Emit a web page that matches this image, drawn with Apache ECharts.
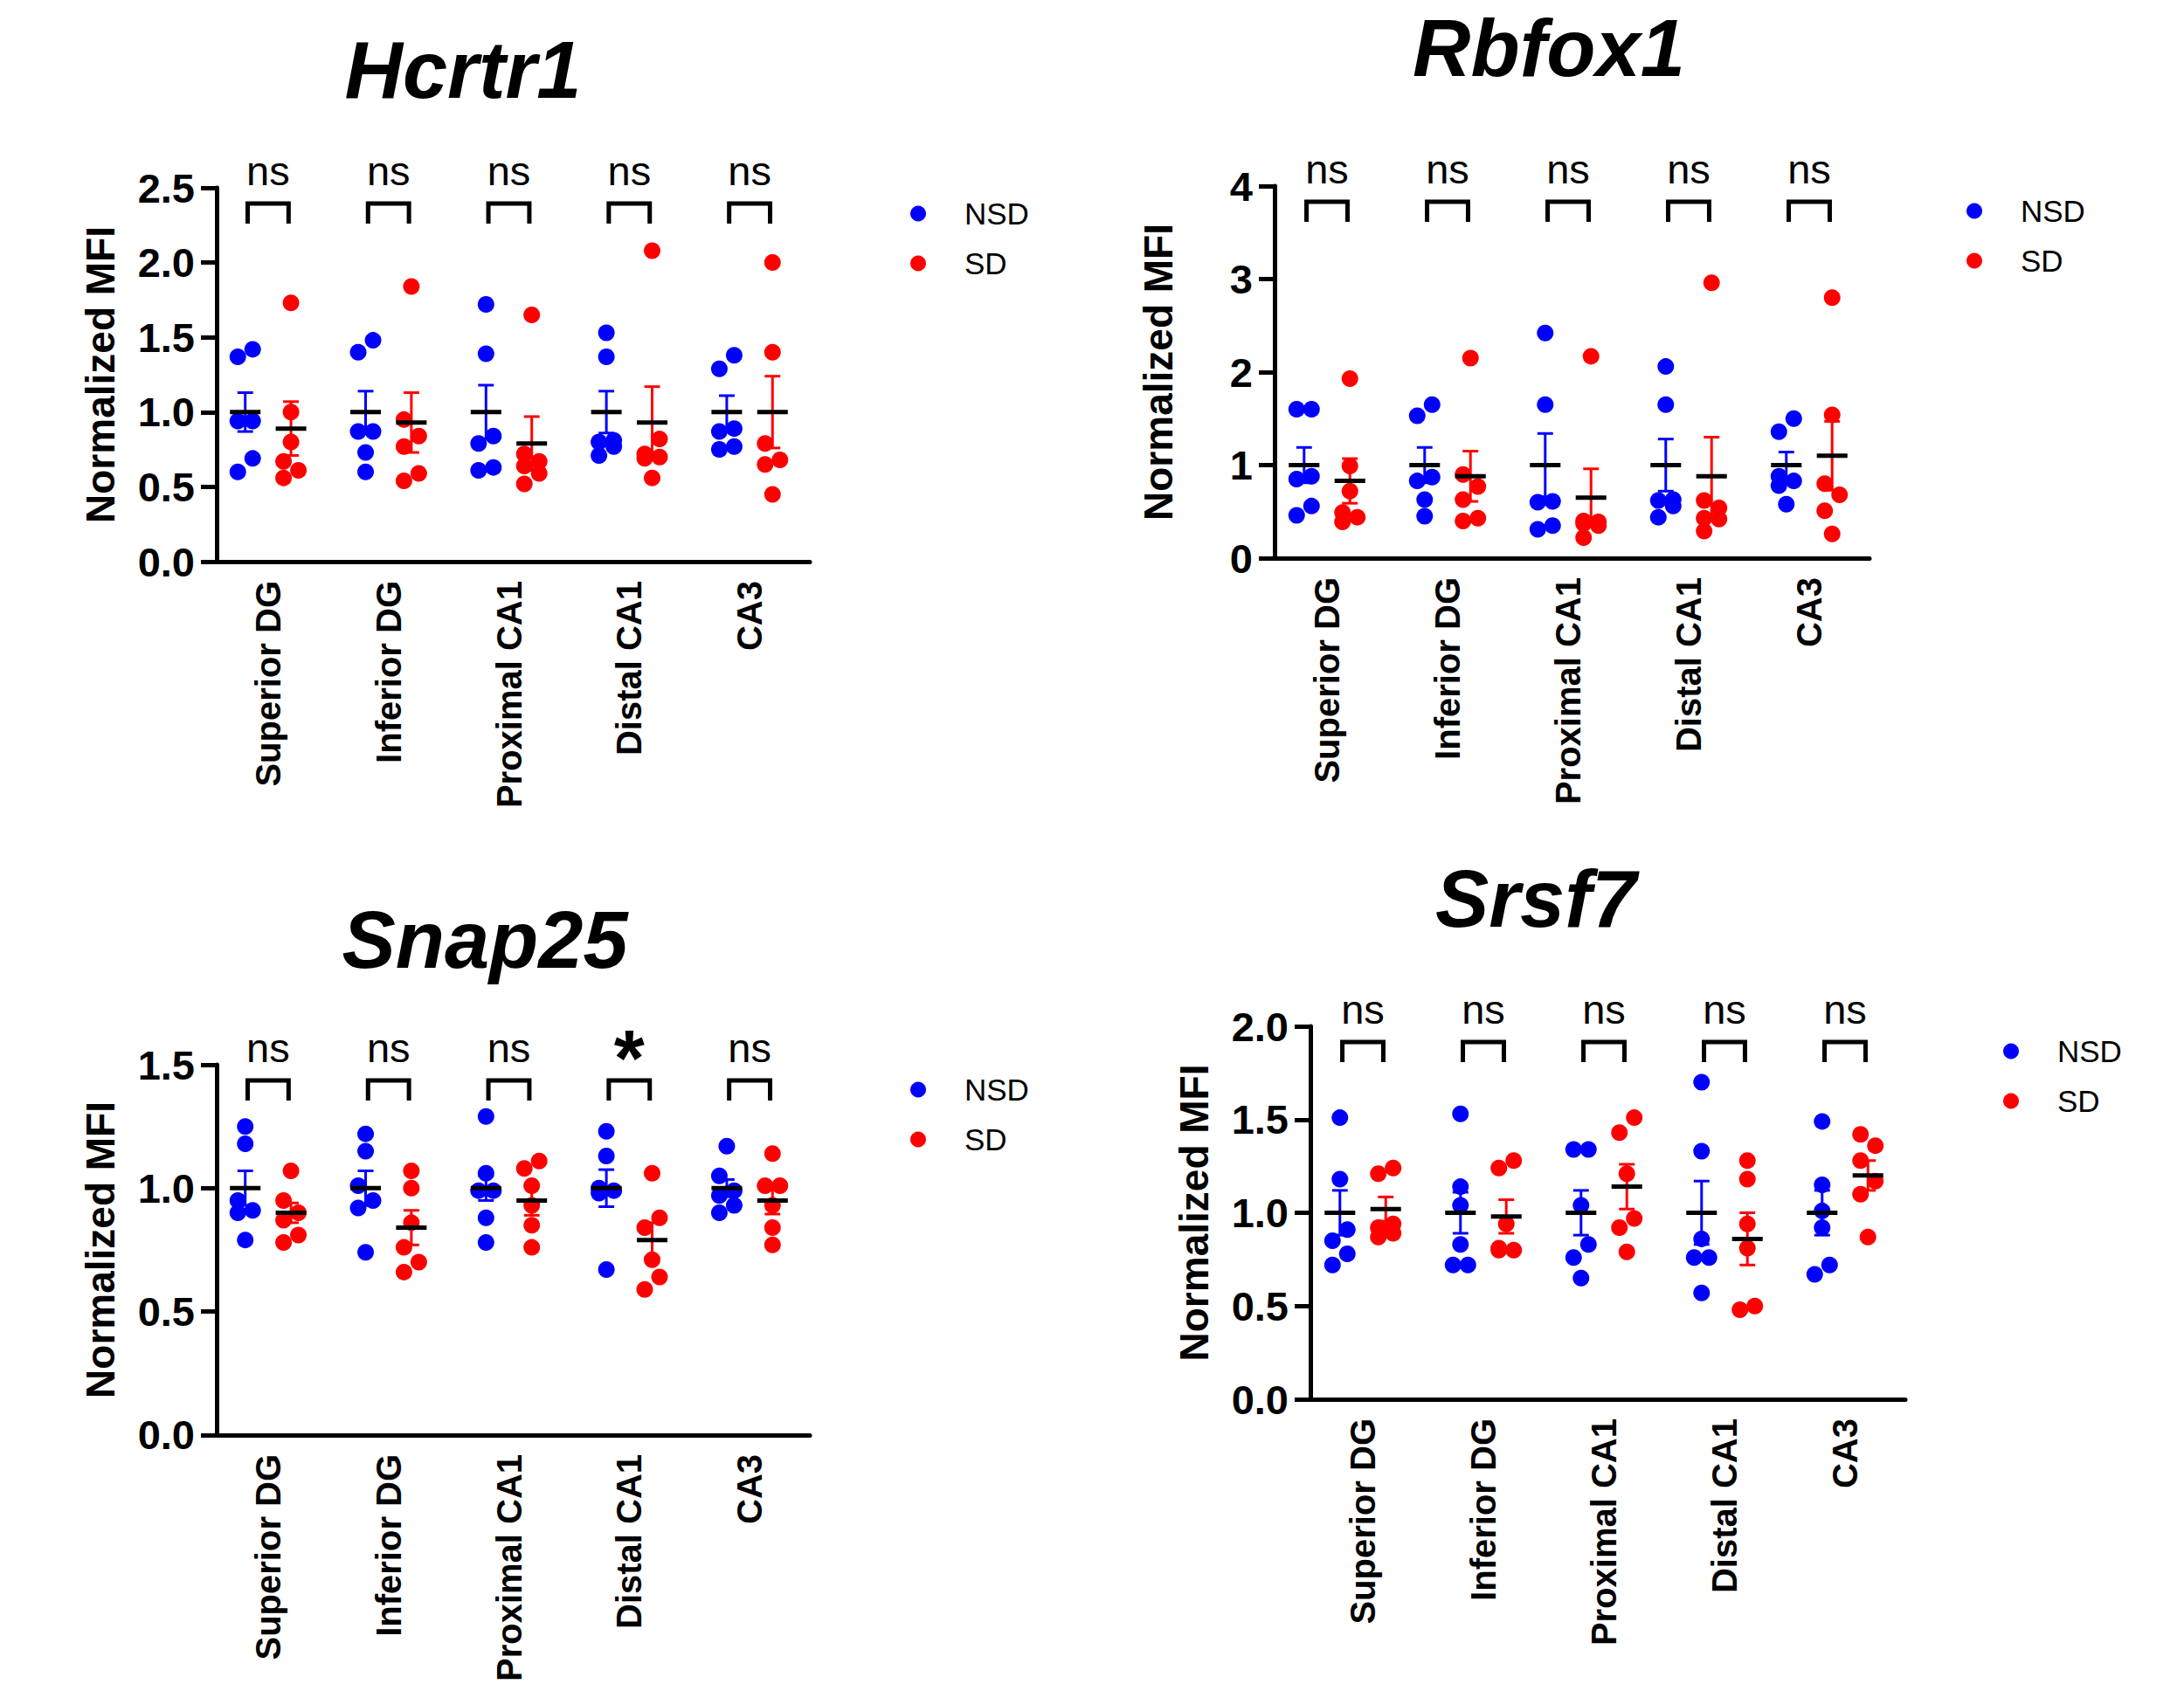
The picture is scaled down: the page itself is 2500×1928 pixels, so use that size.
<!DOCTYPE html>
<html>
<head>
<meta charset="utf-8">
<script src="https://cdn.jsdelivr.net/npm/echarts@6/dist/echarts.min.js"></script>
<style>html,body{margin:0;padding:0;background:#fff;}#main{width:2500px;height:1928px;}</style>
</head>
<body>
<div id="main"></div>
<script>
// ---------------- DATA ----------------
const categories = ['Superior DG', 'Inferior DG', 'Proximal CA1', 'Distal CA1', 'CA3'];
const groupNames = ['NSD', 'SD'];

// Hcrtr1
const hcrtr1NSD = [
  [1.42, 1.37, 0.94, 0.94, 0.69, 0.60],
  [1.48, 1.40, 0.87, 0.87, 0.73, 0.60],
  [1.72, 1.39, 0.84, 0.79, 0.63, 0.61],
  [1.53, 1.37, 0.81, 0.80, 0.77, 0.71],
  [1.38, 1.29, 0.89, 0.87, 0.77, 0.75]
];
const hcrtr1SD = [
  [1.73, 1.00, 0.80, 0.67, 0.61, 0.56],
  [1.84, 0.95, 0.84, 0.77, 0.59, 0.54],
  [1.65, 0.72, 0.67, 0.64, 0.59, 0.52],
  [2.08, 0.82, 0.72, 0.70, 0.69, 0.56],
  [2.00, 1.40, 0.79, 0.68, 0.65, 0.45]
];
const hcrtr1MeanNSD = [1.00, 1.00, 1.00, 1.00, 1.00];
const hcrtr1MeanSD = [0.89, 0.93, 0.79, 0.93, 1.00];
const hcrtr1SemNSD = [0.13, 0.14, 0.18, 0.14, 0.11];
const hcrtr1SemSD = [0.18, 0.20, 0.18, 0.24, 0.24];
const hcrtr1Sig = ['ns', 'ns', 'ns', 'ns', 'ns'];
const hcrtr1YTicks = [0, 0.5, 1.0, 1.5, 2.0, 2.5];

// Rbfox1
const rbfox1NSD = [
  [1.60, 1.60, 0.88, 0.85, 0.56, 0.46],
  [1.65, 1.53, 0.87, 0.83, 0.63, 0.45],
  [2.42, 1.65, 0.61, 0.60, 0.35, 0.31],
  [2.06, 1.65, 0.63, 0.62, 0.56, 0.44],
  [1.50, 1.36, 0.88, 0.83, 0.78, 0.58]
];
const rbfox1SD = [
  [1.93, 0.99, 0.72, 0.49, 0.44, 0.39],
  [2.15, 0.90, 0.77, 0.63, 0.43, 0.40],
  [2.17, 0.40, 0.39, 0.37, 0.35, 0.22],
  [2.96, 0.62, 0.54, 0.43, 0.42, 0.29],
  [2.80, 1.54, 0.80, 0.68, 0.51, 0.26]
];
const rbfox1MeanNSD = [1.00, 1.00, 1.00, 1.00, 1.00];
const rbfox1MeanSD = [0.83, 0.88, 0.65, 0.88, 1.10];
const rbfox1SemNSD = [0.19, 0.19, 0.34, 0.28, 0.14];
const rbfox1SemSD = [0.24, 0.27, 0.31, 0.42, 0.37];
const rbfox1Sig = ['ns', 'ns', 'ns', 'ns', 'ns'];
const rbfox1YTicks = [0, 1, 2, 3, 4];

// Snap25
const snap25NSD = [
  [1.25, 1.18, 0.95, 0.91, 0.90, 0.79],
  [1.22, 1.15, 1.01, 0.95, 0.92, 0.74],
  [1.29, 1.06, 0.99, 0.99, 0.88, 0.78],
  [1.23, 1.13, 1.00, 0.99, 0.98, 0.67],
  [1.17, 1.05, 0.99, 0.97, 0.93, 0.90]
];
const snap25SD = [
  [1.07, 0.95, 0.90, 0.87, 0.81, 0.78],
  [1.07, 1.00, 0.86, 0.76, 0.70, 0.66],
  [1.11, 1.08, 1.01, 0.93, 0.85, 0.76],
  [1.06, 0.88, 0.84, 0.71, 0.64, 0.59],
  [1.14, 1.01, 1.01, 0.93, 0.84, 0.77]
];
const snap25MeanNSD = [1.00, 1.00, 1.00, 1.00, 1.00];
const snap25MeanSD = [0.90, 0.84, 0.95, 0.79, 0.95];
const snap25SemNSD = [0.07, 0.07, 0.05, 0.075, 0.035];
const snap25SemSD = [0.04, 0.07, 0.06, 0.07, 0.055];
const snap25Sig = ['ns', 'ns', 'ns', '*', 'ns'];
const snap25YTicks = [0, 0.5, 1.0, 1.5];

// Srsf7
const srsf7NSD = [
  [1.51, 1.18, 0.91, 0.85, 0.78, 0.72],
  [1.53, 1.14, 1.04, 0.83, 0.72, 0.72],
  [1.34, 1.34, 1.04, 0.83, 0.76, 0.65],
  [1.70, 1.33, 0.86, 0.76, 0.76, 0.57],
  [1.49, 1.15, 1.01, 0.92, 0.72, 0.67]
];
const srsf7SD = [
  [1.24, 1.21, 0.94, 0.92, 0.89, 0.87],
  [1.28, 1.24, 0.94, 0.81, 0.80, 0.80],
  [1.51, 1.43, 1.21, 0.97, 0.92, 0.79],
  [1.28, 1.18, 0.94, 0.81, 0.50, 0.48],
  [1.42, 1.36, 1.28, 1.17, 1.10, 0.87]
];
const srsf7MeanNSD = [1.00, 1.00, 1.00, 1.00, 1.00];
const srsf7MeanSD = [1.02, 0.98, 1.14, 0.86, 1.20];
const srsf7SemNSD = [0.12, 0.11, 0.12, 0.17, 0.12];
const srsf7SemSD = [0.065, 0.09, 0.12, 0.14, 0.08];
const srsf7Sig = ['ns', 'ns', 'ns', 'ns', 'ns'];
const srsf7YTicks = [0, 0.5, 1.0, 1.5, 2.0];

// ---------------- LAYOUT / STYLE ----------------
const FONT = '"Liberation Sans", Arial, Helvetica, sans-serif';
const COLORS = { NSD: '#0000ff', SD: '#ff0000' };
const DOT_D = 19, JIT = 8.5, GROUP_OFF = 0.19, BRACKET_HALF = 0.17;

const panels = [
  { title: 'Hcrtr1', nsd: hcrtr1NSD, sd: hcrtr1SD, mNSD: hcrtr1MeanNSD, mSD: hcrtr1MeanSD, sNSD: hcrtr1SemNSD, sSD: hcrtr1SemSD, sig: hcrtr1Sig, ticks: hcrtr1YTicks, dec: 1,
    grid: { left: 238, top: 215, width: 689, height: 428 }, yOff: -10, tx: 530, ty: 80, lx: 1037, ly: 222 },
  { title: 'Rbfox1', nsd: rbfox1NSD, sd: rbfox1SD, mNSD: rbfox1MeanNSD, mSD: rbfox1MeanSD, sNSD: rbfox1SemNSD, sSD: rbfox1SemSD, sig: rbfox1Sig, ticks: rbfox1YTicks, dec: 0,
    grid: { left: 1450, top: 213, width: 690, height: 426 }, yOff: -9, tx: 1773, ty: 55, lx: 2246, ly: 219 },
  { title: 'Snap25', nsd: snap25NSD, sd: snap25SD, mNSD: snap25MeanNSD, mSD: snap25MeanSD, sNSD: snap25SemNSD, sSD: snap25SemSD, sig: snap25Sig, ticks: snap25YTicks, dec: 1,
    grid: { left: 238, top: 1219, width: 689, height: 428 }, yOff: -10, tx: 555, ty: 1076, lx: 1037, ly: 1225 },
  { title: 'Srsf7', nsd: srsf7NSD, sd: srsf7SD, mNSD: srsf7MeanNSD, mSD: srsf7MeanSD, sNSD: srsf7SemNSD, sSD: srsf7SemSD, sig: srsf7Sig, ticks: srsf7YTicks, dec: 1,
    grid: { left: 1491, top: 1175, width: 690, height: 427 }, yOff: -9, tx: 1758, ty: 1029, lx: 2288, ly: 1181 }
];

// beeswarm-like jitter computed in pixel space from the axis scale
const jitterCache = {};
function jitterFor(key, groups, api, flatIdx) {
  if (!jitterCache[key]) {
    const offs = [];
    groups.forEach((vals, c) => {
      const ys = vals.map(v => api.coord([c, v])[1]);
      const order = ys.map((y, i) => i).sort((a, b) => ys[a] - ys[b]);
      const clusters = [];
      let cur = [order[0]];
      for (let k = 1; k < order.length; k++) {
        if (ys[order[k]] - ys[order[k - 1]] < DOT_D) cur.push(order[k]);
        else { clusters.push(cur); cur = [order[k]]; }
      }
      clusters.push(cur);
      const local = new Array(vals.length).fill(0);
      clusters.forEach(cl => {
        if (cl.length > 1) {
          const sign = cl.length % 2 === 0 ? 1 : -1;
          cl.forEach((idx, m) => { local[idx] = (m % 2 === 0 ? sign : -sign) * JIT; });
        }
      });
      offs.push(...local);
    });
    jitterCache[key] = offs;
  }
  return jitterCache[key][flatIdx];
}

function dotSeries(p, pi, gname, groups, side) {
  const key = pi + '_' + gname;
  return {
    type: 'custom', name: gname, xAxisIndex: pi, yAxisIndex: pi, z: 2,
    itemStyle: { color: COLORS[gname] },
    data: groups.flatMap((vals, c) => vals.map(v => [c, v])),
    renderItem: (params, api) => {
      const c = api.value(0), v = api.value(1);
      const band = api.size([1, 0])[0];
      const pt = api.coord([c, v]);
      const j = jitterFor(key, groups, api, params.dataIndex);
      return { type: 'circle', shape: { cx: pt[0] + side * GROUP_OFF * band + j, cy: pt[1], r: DOT_D / 2 },
               style: { fill: COLORS[gname] } };
    }
  };
}

function errSeries(p, pi, gname, means, sems, side) {
  return {
    type: 'custom', name: gname + ' mean', xAxisIndex: pi, yAxisIndex: pi, z: 3,
    data: means.map((m, c) => [c, m, sems[c]]),
    renderItem: (params, api) => {
      const c = api.value(0), m = api.value(1), s = api.value(2);
      const band = api.size([1, 0])[0];
      const pm = api.coord([c, m]);
      const x = pm[0] + side * GROUP_OFF * band;
      const yt = api.coord([c, m + s])[1], yb = api.coord([c, m - s])[1];
      const capW = 0.065 * band, meanW = 0.127 * band;
      const st = { stroke: COLORS[gname], lineWidth: 3 };
      return { type: 'group', children: [
        { type: 'line', shape: { x1: x, y1: yt, x2: x, y2: yb }, style: st },
        { type: 'line', shape: { x1: x - capW, y1: yt, x2: x + capW, y2: yt }, style: st },
        { type: 'line', shape: { x1: x - capW, y1: yb, x2: x + capW, y2: yb }, style: st },
        { type: 'line', shape: { x1: x - meanW, y1: pm[1], x2: x + meanW, y2: pm[1] }, style: { stroke: '#000', lineWidth: 5 } }
      ] };
    }
  };
}

function sigSeries(p, pi) {
  const yMax = p.ticks[p.ticks.length - 1];
  return {
    type: 'custom', name: 'sig', xAxisIndex: pi, yAxisIndex: pi, z: 4,
    data: p.sig.map((s, c) => [c, yMax]),
    renderItem: (params, api) => {
      const c = api.value(0);
      const band = api.size([1, 0])[0];
      const pt = api.coord([c, api.value(1)]);
      const top = pt[1];
      const x0 = pt[0] - BRACKET_HALF * band, x1 = pt[0] + BRACKET_HALF * band;
      const s = p.sig[params.dataIndex];
      const star = s === '*';
      return { type: 'group', children: [
        { type: 'polyline', shape: { points: [[x0, top + 41], [x0, top + 18], [x1, top + 18], [x1, top + 41]] },
          style: { stroke: '#000', lineWidth: 5, fill: null, lineJoin: 'miter', lineCap: 'butt' } },
        { type: 'text', x: pt[0], y: star ? top - 7 : top - 20,
          style: { text: s, fill: '#000', font: (star ? 'bold 90px ' : '47px ') + FONT, textAlign: 'center', textVerticalAlign: 'middle' } }
      ] };
    }
  };
}

const option = {
  animation: false,
  backgroundColor: '#fff',
  grid: panels.map(p => Object.assign({ containLabel: false }, p.grid)),
  xAxis: panels.map((p, i) => ({
    gridIndex: i, type: 'category', data: categories, boundaryGap: true,
    axisLine: { lineStyle: { color: '#000', width: 5 } },
    axisTick: { alignWithLabel: true, length: 15, lineStyle: { color: '#000', width: 5 } },
    axisLabel: { interval: 0, rotate: 90, margin: 22, fontSize: 40, fontWeight: 'bold', color: '#000', fontFamily: FONT },
    splitLine: { show: false }
  })),
  yAxis: panels.map((p, i) => ({
    gridIndex: i, type: 'value', min: p.ticks[0], max: p.ticks[p.ticks.length - 1], interval: p.ticks[1] - p.ticks[0],
    offset: p.yOff,
    axisLine: { show: true, lineStyle: { color: '#000', width: 5 } },
    axisTick: { show: true, length: 18, lineStyle: { color: '#000', width: 5 } },
    axisLabel: { margin: 25, fontSize: 47, fontWeight: 'bold', color: '#000', fontFamily: FONT,
      formatter: v => v.toFixed(p.dec) },
    splitLine: { show: false },
    name: 'Normalized MFI', nameLocation: 'middle', nameGap: 110,
    nameTextStyle: { fontSize: 46, fontWeight: 'bold', color: '#000', fontFamily: FONT }
  })),
  legend: panels.map(p => ({
    orient: 'vertical', left: p.lx, top: p.ly, icon: 'circle', itemWidth: 96, itemHeight: 18, itemGap: 22,
    selectedMode: false,
    textStyle: { fontSize: 35, color: '#000', fontFamily: FONT },
    data: groupNames.map(n => ({ name: n, itemStyle: { color: COLORS[n] } }))
  })),
  graphic: panels.map(p => ({
    type: 'text', x: p.tx, y: p.ty,
    style: { text: p.title, font: 'italic bold 92px ' + FONT, fill: '#000', textAlign: 'center', textVerticalAlign: 'middle' }
  })),
  series: panels.flatMap((p, i) => [
    dotSeries(p, i, 'NSD', p.nsd, -1),
    dotSeries(p, i, 'SD', p.sd, 1),
    errSeries(p, i, 'NSD', p.mNSD, p.sNSD, -1),
    errSeries(p, i, 'SD', p.mSD, p.sSD, 1),
    sigSeries(p, i)
  ])
};

const chart = echarts.init(document.getElementById('main'), null, { renderer: 'svg', width: 2500, height: 1928 });
chart.setOption(option);
</script>
</body>
</html>
